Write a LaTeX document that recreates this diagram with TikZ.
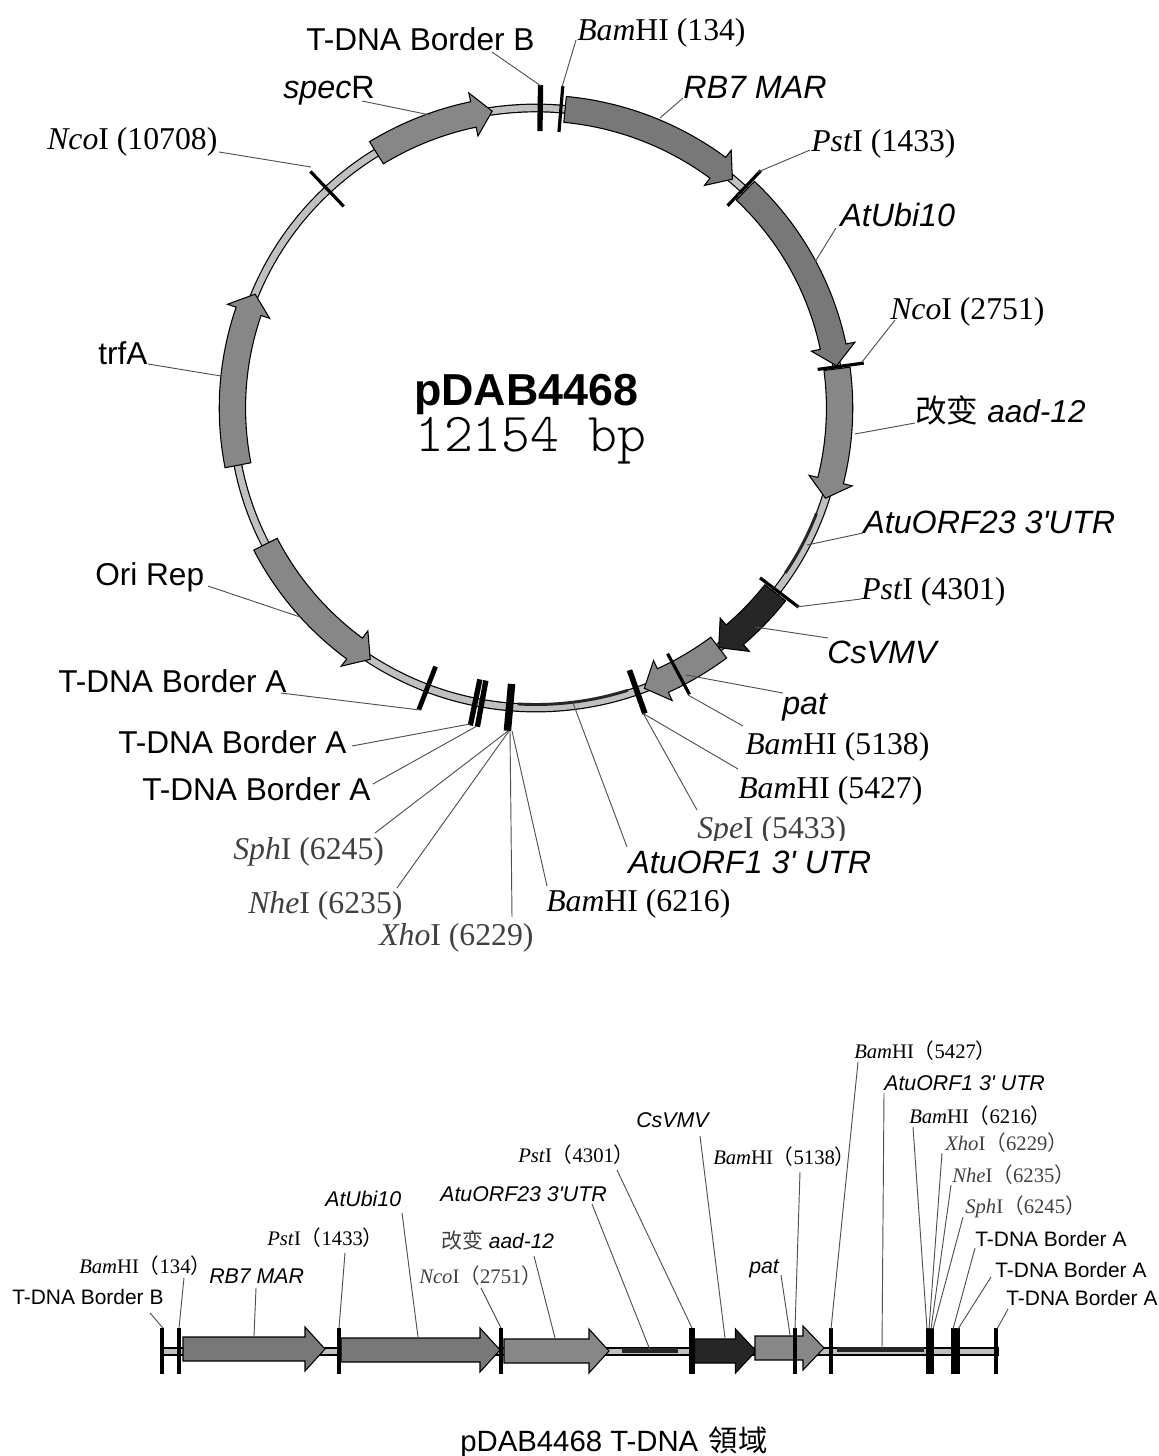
\documentclass[tikz,border=0pt]{standalone}
\usepackage{fontspec}
\setmainfont{Liberation Sans}
\newfontfamily\serifface{Liberation Serif}
\newfontfamily\cjkface{Noto Sans CJK SC}
\newfontfamily\cjktcface{Noto Sans CJK TC}
\newfontfamily\sizeface{Latin Modern Mono Light}
\definecolor{backbone}{HTML}{C0C0C0}
\definecolor{genemid}{HTML}{787878}
\definecolor{genelight}{HTML}{878787}
\definecolor{genedark}{HTML}{262626}
\definecolor{leadgray}{HTML}{505050}
\definecolor{sitegray}{HTML}{404040}
\tikzset{
  biglab/.style={anchor=base west,inner sep=0pt,font=\fontsize{23.7}{28}\selectfont},
  bigital/.style={anchor=base west,inner sep=0pt,font=\itshape\fontsize{24.2}{28}\selectfont},
  bigsite/.style={anchor=base west,inner sep=0pt,font=\serifface\fontsize{23.8}{28}\selectfont},
  smalllab/.style={anchor=base west,inner sep=0pt,font=\fontsize{15.7}{18}\selectfont},
  smallital/.style={anchor=base west,inner sep=0pt,font=\itshape\fontsize{16}{18}\selectfont},
  smallsite/.style={anchor=base west,inner sep=0pt,font=\serifface\fontsize{15.5}{18}\selectfont},
  leader/.style={draw=leadgray,line width=0.7pt},
  genearrow/.style={draw=black,line width=0.8pt,line join=miter},
  sitemark/.style={draw=black,line width=#1},
  sitemark/.default=2.4pt,
  insertstrip/.style={draw=genedark,line width=#1},
  insertstrip/.default=2.2pt,
}
% label, shift of the line start from the label, site on the map
\newcommand{\leadline}[3]{%
  \coordinate (#1site) at (#3);
  \draw[leader] ([shift={(#2)}]#1.base west) -- (#1site);}
% start, neck and tip angle on the ring, fill
\newcommand{\ringgene}[4]{%
  \draw[genearrow,fill=#4] (#1:313) arc[start angle=#1,end angle=#2,radius=313]
    -- (#2:322) -- (#3:300) -- (#2:278) -- (#2:287)
    arc[start angle=#2,end angle=#1,radius=287] -- cycle;}
% start, neck, tip, middle height, fill
\newcommand{\linegene}[5]{%
  \draw[genearrow,fill=#5] (#1,#4-12) -- (#2,#4-12) -- (#2,#4-22) -- (#3,#4)
    -- (#2,#4+22) -- (#2,#4+12) -- (#1,#4+12) -- cycle;}
\newcommand{\sitepar}[1]{{\cjkface （}#1{\cjkface ）}}
\begin{document}
\begin{tikzpicture}[x=0.75pt,y=-0.75pt]
  \useasboundingbox (0,0) rectangle (1159,1456);
  % Ring map
  \begin{scope}[shift={(536,408)},xscale=1.012]
    \draw[black,line width=6.6pt] (0,0) circle[radius=300];
    \draw[backbone,line width=4.8pt] (0,0) circle[radius=300];
    \ringgene{-84.5}{-53.2}{-49.7}{genemid}
    \ringgene{-46.4}{-11.8}{-8.1}{genemid}
    \ringgene{-7.5}{14}{17.5}{genelight}
    \ringgene{38}{49.1}{53}{genedark}
    \ringgene{53}{65.3}{69.1}{genelight}
    \ringgene{153}{126.7}{123.1}{genelight}
    \ringgene{169}{198.8}{202.3}{genelight}
    \ringgene{238.3}{258.1}{261.7}{genelight}
    % Terminators
    \draw[insertstrip] (20.8:296.5) arc[start angle=20.8,end angle=33.8,radius=296.5];
    \draw[insertstrip] (72.2:296.5) arc[start angle=72.2,end angle=93.5,radius=296.5];
    % Sites
    \draw[sitemark=4pt] (-89.2:277) -- (-89.2:323);
    \draw[sitemark] (-85.3:277) -- (-85.3:323);
    \draw[sitemark] (-46.9:277) -- (-46.9:325);
    \draw[sitemark] (-7.9:281) -- (-7.9:327);
    \draw[sitemark] (37.5:279) -- (37.5:327);
    \draw[sitemark] (62.1:278) -- (62.1:324);
    \draw[sitemark=4.2pt] (70.6:278) -- (70.6:324);
    \draw[sitemark=5.6pt] (95:277) -- (95:324);
    \draw[sitemark=4pt] (100.3:277) -- (100.3:324);
    \draw[sitemark=4pt] (101.55:277) -- (101.55:324);
    \draw[sitemark=3.6pt] (111:277) -- (111:323);
    \draw[sitemark] (226.7:277) -- (226.7:325);
  \end{scope}
  % Name of the ring
  \node[anchor=base west,inner sep=0pt,font=\bfseries\fontsize{33.6}{38}\selectfont] (plasmid) at (414,405) {pDAB4468};
  \node[anchor=base west,inner sep=0pt,font=\sizeface\fontsize{41.2}{44}\selectfont] (plasmidsize) at (415,451) {12154 bp};
  % Ring labels
  \node[biglab] (borderB) at (306,50) {T-DNA Border B};
  \node[bigsite] (bamA) at (577,40) {\textit{Bam}HI (134)};
  \node[bigital] (rbMar) at (683,98) {RB7 MAR};
  \node[bigital] (specR) at (283,98) {spec\textup{R}};
  \node[bigsite] (ncoB) at (47,149) {\textit{Nco}I (10708)};
  \node[bigsite] (pstA) at (811,151) {\textit{Pst}I (1433)};
  \node[bigital] (atUbi) at (840,226) {AtUbi10};
  \node[bigsite] (ncoA) at (890,319) {\textit{Nco}I (2751)};
  \node[biglab] (aadGene) at (915,422) {{\cjkface 改变} \textit{aad-12}};
  \node[bigital] (orfA) at (863,533) {AtuORF23 3\textquotesingle UTR};
  \node[bigsite] (pstB) at (861,599) {\textit{Pst}I (4301)};
  \node[bigital] (csvmv) at (827,663) {CsVMV};
  \node[bigital] (patGene) at (782,714) {pat};
  \node[bigsite] (bamB) at (745,754) {\textit{Bam}HI (5138)};
  \node[bigsite] (bamC) at (738,798) {\textit{Bam}HI (5427)};
  \node[bigsite,text=sitegray] (speA) at (697,838) {\textit{Spe}I (5433)};
  \node[bigital,fill=white,text height=24pt] (orfB) at (628,873) {AtuORF1 3\textquotesingle{} UTR};
  \node[bigsite] (bamD) at (546,911) {\textit{Bam}HI (6216)};
  \node[bigsite,text=sitegray] (xhoA) at (379,945) {\textit{Xho}I (6229)};
  \node[bigsite,text=sitegray] (nheA) at (248,913) {\textit{Nhe}I (6235)};
  \node[bigsite,text=sitegray] (sphA) at (233,859) {\textit{Sph}I (6245)};
  \node[biglab] (borderAr) at (142,800) {T-DNA Border A};
  \node[biglab] (borderAm) at (118,753) {T-DNA Border A};
  \node[biglab] (borderAl) at (58,692) {T-DNA Border A};
  \node[biglab] (oriRep) at (95,585) {Ori Rep};
  \node[biglab] (trfA) at (98,364) {trfA};
  % Ring lines
  \leadline{borderB}{186,2}{541,86}
  \leadline{bamA}{-1,0}{562,87}
  \leadline{rbMar}{0,0}{660,118}
  \leadline{specR}{79,3}{430,115}
  \leadline{ncoB}{172,3}{311,167}
  \leadline{pstA}{-1,-1}{758,172}
  \leadline{atUbi}{-4,2}{815,262}
  \leadline{ncoA}{5,1}{862,362}
  \leadline{aadGene}{0,1}{855,434}
  \leadline{orfA}{0,0}{807,545}
  \leadline{pstB}{0,0}{796,607}
  \leadline{csvmv}{1,-25}{755,627}
  \leadline{patGene}{1,-21}{686,675}
  \leadline{bamB}{-2,-28}{688,695}
  \leadline{bamC}{0,-29}{644,714}
  \leadline{speA}{0,-28}{643,713}
  \leadline{orfB}{-1,-26}{573,703}
  \leadline{bamD}{1,-25}{512,731}
  \leadline{xhoA}{133,-28}{510,731}
  \leadline{nheA}{149,-25}{509,731}
  \leadline{sphA}{142,-26}{508,731}
  \leadline{borderAr}{231,-16}{477,726}
  \leadline{borderAm}{234,-7}{470,724}
  \leadline{borderAl}{223,1}{420,710}
  \leadline{oriRep}{113,1}{300,617}
  \leadline{trfA}{50,0}{221,376}
  % T-DNA line
  \draw[genearrow,fill=backbone] (162,1348) rectangle (998,1355);
  \linegene{183}{305}{325}{1349}{genemid}
  \linegene{341}{480}{500}{1350}{genemid}
  \linegene{504}{589}{609}{1351}{genelight}
  \linegene{694.5}{735.5}{756}{1351}{genedark}
  \linegene{755}{803}{824}{1348}{genelight}
  \draw[insertstrip=3.4pt] (622,1350.5) -- (678,1350.5);
  \draw[insertstrip=3.4pt] (837,1349.5) -- (924,1349.5);
  % T-DNA sites
  \foreach \sitex/\sitew in {162/3.4pt,179/3.4pt,339/3.4pt,501/3.4pt,692/4pt,795/3.6pt,831/3.4pt,930/6.4pt,953/3.4pt,957.5/3.4pt,996/3.6pt}
    \draw[sitemark=\sitew] (\sitex,1328) -- (\sitex,1374);
  % T-DNA labels
  \node[smalllab] (lBorderB) at (12,1304) {T-DNA Border B};
  \node[smallsite] (lBamA) at (79,1273) {\textit{Bam}HI\sitepar{134}};
  \node[smallital] (lRbMar) at (209,1283) {RB7 MAR};
  \node[smallsite] (lPstA) at (267,1245) {\textit{Pst}I\sitepar{1433}};
  \node[smallital] (lAtUbi) at (325,1206) {AtUbi10};
  \node[smallsite,text=sitegray] (lNcoA) at (419,1283) {\textit{Nco}I\sitepar{2751}};
  \node[smalllab] (lAadGene) at (441,1248) {{\cjkface\color{sitegray}改变} \textit{aad-12}};
  \node[smallital] (lOrfA) at (440,1201) {AtuORF23 3\textquotesingle UTR};
  \node[smallsite] (lPstB) at (518,1162) {\textit{Pst}I\sitepar{4301}};
  \node[smallital] (lCsvmv) at (636,1127) {CsVMV};
  \node[smallsite] (lBamB) at (713,1164) {\textit{Bam}HI\sitepar{5138}};
  \node[smallital] (lPatGene) at (749,1273) {pat};
  \node[smallsite] (lBamC) at (854,1058) {\textit{Bam}HI\sitepar{5427}};
  \node[smallital] (lOrfB) at (884,1090) {AtuORF1 3\textquotesingle{} UTR};
  \node[smallsite] (lBamD) at (909,1123) {\textit{Bam}HI\sitepar{6216}};
  \node[smallsite,text=sitegray] (lXhoA) at (945,1150) {\textit{Xho}I\sitepar{6229}};
  \node[smallsite,text=sitegray] (lNheA) at (952,1182) {\textit{Nhe}I\sitepar{6235}};
  \node[smallsite,text=sitegray] (lSphA) at (965,1213) {\textit{Sph}I\sitepar{6245}};
  \node[smalllab] (lBorderAa) at (975,1246) {T-DNA Border A};
  \node[smalllab] (lBorderAb) at (995,1277) {T-DNA Border A};
  \node[smalllab] (lBorderAc) at (1006,1305) {T-DNA Border A};
  % T-DNA lines
  \leadline{lBorderB}{138,9}{163,1328}
  \leadline{lBamA}{105,5}{179,1328}
  \leadline{lRbMar}{47,5}{254,1336}
  \leadline{lPstA}{78,8}{339,1328}
  \leadline{lAtUbi}{77,7}{418,1337}
  \leadline{lNcoA}{62,5}{501,1328}
  \leadline{lAadGene}{93,8}{555,1338}
  \leadline{lOrfA}{152,3}{650,1350}
  \leadline{lPstB}{99,8}{692,1328}
  \leadline{lCsvmv}{64,9}{725,1338}
  \leadline{lBamB}{87,8}{795,1329}
  \leadline{lPatGene}{32,2}{790,1335}
  \leadline{lBamC}{4,4}{831,1329}
  \leadline{lOrfB}{0,3}{882,1348}
  \leadline{lBamD}{4,4}{927,1329}
  \leadline{lXhoA}{-3,3}{929,1329}
  \leadline{lNheA}{-1,3}{931,1329}
  \leadline{lSphA}{-2,4}{933,1329}
  \leadline{lBorderAa}{0,2}{953,1329}
  \leadline{lBorderAb}{-4,0}{958,1329}
  \leadline{lBorderAc}{2,4}{997,1329}
  % Caption
  \node[anchor=base west,inner sep=0pt,font=\fontsize{22}{26}\selectfont] (caption) at (460,1451) {pDAB4468 T-DNA\hspace{8pt}{\cjktcface 領域}};
\end{tikzpicture}
\end{document}
